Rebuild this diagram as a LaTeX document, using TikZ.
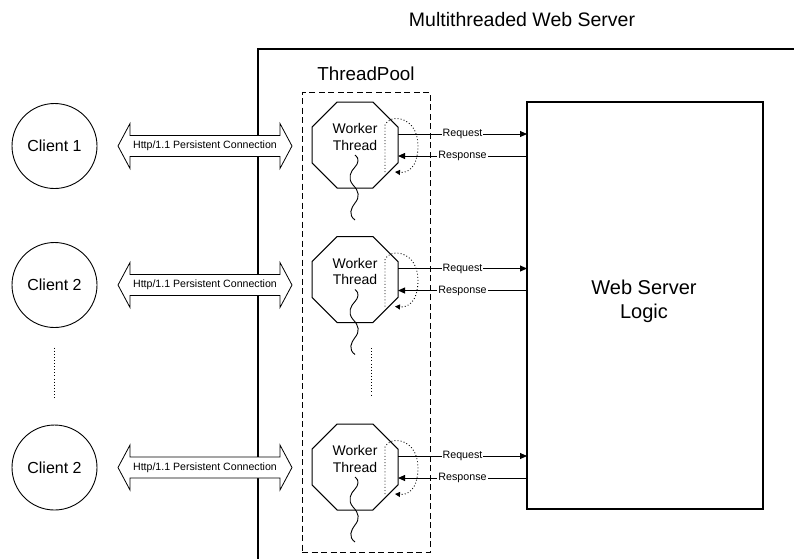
\documentclass[tikz,border=0pt]{standalone}
\usepackage{fontspec}
\setmainfont{Liberation Sans}
\usetikzlibrary{shapes.geometric,arrows.meta,calc}
\begin{document}
\begin{tikzpicture}[x=1pt,y=-1pt,
  client/.style={circle,draw,line width=0.9pt,minimum size=85pt,inner sep=0pt,outer sep=0pt,font=\fontsize{16}{19}\selectfont},
  worker/.style={regular polygon,regular polygon sides=8,draw,line width=1pt,minimum size=93.1pt,inner sep=0pt,outer sep=0pt},
  wtext/.style={align=center,font=\fontsize{14}{16.5}\selectfont,inner sep=0pt},
  msg/.style={line width=0.9pt},
  tip/.style={-{Triangle[length=7pt,width=6pt]}},
  lbl/.style={fill=white,inner sep=1pt,font=\fontsize{10.7}{12}\selectfont},
  conn/.style={draw,fill=white,line width=0.8pt},
  http/.style={inner sep=0pt,font=\fontsize{10.6}{12}\selectfont},
  dots/.style={line width=0.9pt,dash pattern=on 0.9pt off 2.2pt},
  squig/.style={line width=0.9pt}
]
\useasboundingbox (0,0) rectangle (794,558);
% server boundary
\draw[line width=2pt] (258,562) |- (798,49);
\node[anchor=base,font=\fontsize{19.5}{22}\selectfont] (title) at (522,26.5) {Multithreaded Web Server};
\node[anchor=base,font=\fontsize{18.8}{22}\selectfont] (tp) at (366,80) {ThreadPool};
% thread pool box
\node[draw,dash pattern=on 6pt off 3.5pt,line width=1pt,minimum width=128pt,minimum height=460pt,inner sep=0pt] (pool) at (366,322) {};
% web server logic
\node[draw,line width=1.2pt,minimum width=236pt,minimum height=407pt,inner sep=0pt,outer sep=0pt] (logic) at (645,305.5) {};
\node[align=center,font=\fontsize{20}{24}\selectfont] (logictext) at (644,301) {Web Server\\Logic};
% clients and workers
\node[client] (c1) at (54.5,146) {Client 1};
\node[client] (c2) at (54.5,285) {Client 2};
\node[client] (c3) at (54.5,467.5) {Client 2};
\node[worker] (w1) at (355,145) {};
\node[worker] (w2) at (355,279.5) {};
\node[worker] (w3) at (355,467) {};
\foreach \n in {1,2,3} {
  \node[wtext] (wt\n) at ($(w\n)+(0,-8)$) {Worker\\Thread};
  % persistent connection double arrow
  \path (c\n.east) ++(21,0) coordinate (L\n);
  \path (L\n -| w\n.west) ++(-20,0) coordinate (R\n);
  \draw[conn] (L\n) -- ++(12,-22.5) -- ++(0,12) -- ($(R\n)+(-12,-10.5)$) -- ++(0,-12) -- (R\n)
     -- ++(-12,22.5) -- ++(0,-12) -- ($(L\n)+(12,10.5)$) -- ++(0,12) -- cycle;
  \node[http] (h\n) at ($(L\n)!0.5!(R\n)$) {Http/1.1 Persistent Connection};
  % request / response
  \coordinate (rq\n) at ($(w\n.east)+(0,-11)$);
  \coordinate (rs\n) at ($(w\n.east)+(0,11)$);
  \draw[msg,tip] (rq\n) -- (rq\n -| logic.west) node[lbl,midway] {Request};
  \draw[msg,tip] (rs\n -| logic.west) -- (rs\n) node[lbl,midway] {Response};
  \begin{scope}[shift={(w\n.center)}]
    % thread squiggle
    \draw[squig] (0,10) .. controls (5,13) and (3,19) .. (0,22)
      .. controls (-4,26) and (-8,33) .. (-2,40)
      .. controls (4,46) and (5,52) .. (0,58)
      .. controls (-4,63) and (-7,70) .. (0,75);
    % dotted loop
    \draw[dots,-{Triangle[length=5pt,width=5pt]}] (30,27) -- (30,-20)
      .. controls (34,-31) and (62,-30) .. (63,0)
      .. controls (63,24) and (52,28) .. (40,27);
  \end{scope}
}
% ellipsis dots
\draw[dots] ($(c2.south)+(0,20)$) -- ($(c3.north)+(0,-27)$);
\draw[dots] (371,348) -- (371,397);
\end{tikzpicture}
\end{document}
